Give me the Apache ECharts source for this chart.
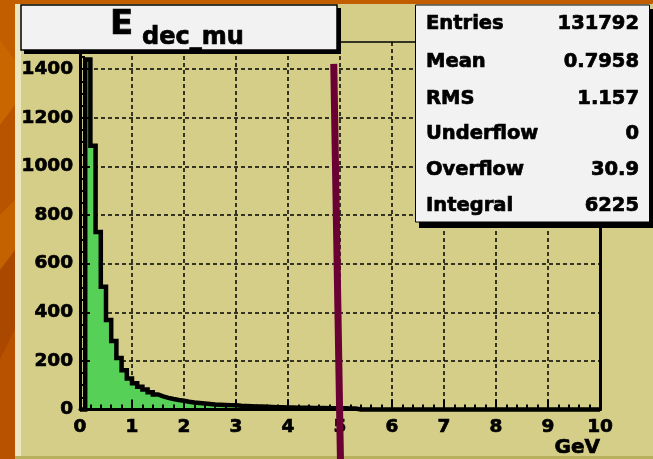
<!DOCTYPE html>
<html>
<head>
<meta charset="utf-8">
<script src="https://cdn.jsdelivr.net/npm/echarts@6/dist/echarts.min.js"></script>
<style>
  html, body { margin: 0; padding: 0; background: #c25e00; }
  #chart { width: 653px; height: 459px; }
</style>
</head>
<body>
<div id="chart"></div>
<script>
// Histogram binning: 100 bins of 0.1 GeV from 0 to 10 GeV
const binLow = 0;
const binWidth = 0.1;
const binCounts = [
  0, 1440, 1085, 730, 505, 368, 282, 212, 162, 128,
  108, 94, 82, 71, 62, 54, 48, 43, 39, 36,
  32, 29, 27, 25, 23, 21, 20, 19, 18, 17,
  15, 14, 13, 12, 12, 11, 10, 9, 9, 8,
  8, 7, 7, 7, 6, 6, 6, 5, 5, 5,
  5, 4, 4, 0, 0, 0, 0, 0, 0, 0,
  0, 0, 0, 0, 0, 0, 0, 0, 0, 0,
  0, 0, 0, 0, 0, 0, 0, 0, 0, 0,
  0, 0, 0, 0, 0, 0, 0, 0, 0, 0,
  0, 0, 0, 0, 0, 0, 0, 0, 0, 0
];

// Cut marker drawn across the plot (GeV, entries)
const cutX = [4.88, 5.013];
const cutY = [1422, -262];

// Axis ranges
const xRange = [0, 10];
const yRange = [0, 1512];
const xStep = 1;
const yStep = 200;

// Texts
const titleMain = 'E';
const titleSub = 'dec_mu';
const xUnit = 'GeV';
const statsLabels = ['Entries', 'Mean', 'RMS', 'Underflow', 'Overflow', 'Integral'];
const statsValues = ['131792', '0.7958', '1.157', '0', '30.9', '6225'];

const FONT = '"DejaVu Sans", "Liberation Sans", sans-serif';

// Step outline: one point per bin low edge, closed at the upper edge
const histPoints = binCounts.map((v, i) => [binLow + i * binWidth, v]);
histPoints.push([binLow + binCounts.length * binWidth, binCounts[binCounts.length - 1]]);

const cutPoints = cutX.map((x, i) => [x, cutY[i]]);

const khaki = '#d4ce89';
const grid = { left: 80, top: 42, width: 520, height: 367.5 };

// heavy text helper for the boxes
function boxText(text, x, y, size, align) {
  return {
    type: 'text', z: 101, x: x, y: y,
    style: {
      text: text, font: 'bold ' + size + 'px ' + FONT, fill: '#000',
      stroke: '#000', lineWidth: 0.7, align: align, verticalAlign: 'middle'
    }
  };
}

// Stats box rows
const statsRowY = [24, 61.5, 98.5, 133.5, 170, 205.5];
const statsText = [];
statsLabels.forEach((lab, i) => {
  statsText.push(boxText(lab, 426, statsRowY[i], 19.5, 'left'));
  statsText.push(boxText(statsValues[i], 639, statsRowY[i], 19.5, 'right'));
});

const graphics = [
  // canvas frame
  { type: 'rect', z: -10, shape: { x: 15, y: 4, width: 638, height: 455 }, style: { fill: khaki } },
  { type: 'rect', z: -9, shape: { x: 15, y: 4, width: 6, height: 452 }, style: { fill: '#ebe6bf' } },
  { type: 'rect', z: -9, shape: { x: 15, y: 456, width: 638, height: 3 }, style: { fill: '#b8b05c' } },
  // decorative backdrop along the left edge
  { type: 'polygon', z: -9, shape: { points: [[0, 40], [15, 60], [15, 105], [0, 125]] }, style: { fill: '#c96600' } },
  { type: 'polygon', z: -9, shape: { points: [[0, 125], [15, 105], [15, 200], [0, 215]] }, style: { fill: '#b85400' } },
  { type: 'polygon', z: -9, shape: { points: [[0, 215], [15, 200], [15, 250], [0, 270]] }, style: { fill: '#c46200' } },
  { type: 'polygon', z: -9, shape: { points: [[0, 270], [15, 250], [15, 330], [0, 360]] }, style: { fill: '#ab4800' } },
  { type: 'polygon', z: -9, shape: { points: [[0, 360], [15, 330], [15, 459], [0, 459]] }, style: { fill: '#b85200' } },

  // title box
  { type: 'rect', z: 100, shape: { x: 24, y: 8, width: 317, height: 46 }, style: { fill: '#000' } },
  { type: 'rect', z: 100, shape: { x: 21, y: 5, width: 316, height: 45 }, style: { fill: '#f2f2f2', stroke: '#000', lineWidth: 1.5 } },
  boxText(titleMain, 110, 25.5, 34, 'left'),
  boxText(titleSub, 142, 37.5, 24, 'left'),

  // statistics box
  { type: 'rect', z: 100, shape: { x: 419, y: 9, width: 240, height: 219 }, style: { fill: '#000' } },
  { type: 'rect', z: 100, shape: { x: 415.5, y: 5, width: 234, height: 217 }, style: { fill: '#f2f2f2', stroke: '#000', lineWidth: 1 } },
  ...statsText,

  // x-axis unit
  boxText(xUnit, 600, 448, 20, 'right')
];

const tickFont = {
  fontFamily: FONT, fontWeight: 'bold', fontSize: 18.5, color: '#000',
  textBorderColor: '#000', textBorderWidth: 0.7
};
const dashed = { color: '#000', type: [4, 3], width: 1.5 };

const option = {
  backgroundColor: '#c25e00',
  animation: false,
  grid: Object.assign({ containLabel: false }, grid),
  xAxis: [
    { // grid lines, below the histogram
      type: 'value', min: xRange[0], max: xRange[1], interval: xStep, position: 'bottom', z: 0,
      axisLine: { show: false }, axisTick: { show: false }, axisLabel: { show: false },
      splitLine: { show: true, showMinLine: false, showMaxLine: false, lineStyle: dashed }
    },
    { // axis line, ticks and labels, above the histogram
      type: 'value', min: xRange[0], max: xRange[1], interval: xStep, position: 'bottom', z: 5,
      axisLine: { show: true, onZero: false, lineStyle: { color: '#000', width: 3 } },
      axisTick: { show: true, inside: true, length: 10, lineStyle: { color: '#000', width: 2 } },
      minorTick: { show: true, splitNumber: 5, length: 5, lineStyle: { color: '#000', width: 2 } },
      axisLabel: Object.assign({ margin: 8, formatter: v => String(v) }, tickFont),
      splitLine: { show: false }
    },
    { // frame top
      type: 'value', min: xRange[0], max: xRange[1], interval: xStep, position: 'top', z: 5,
      axisLine: { show: true, onZero: false, lineStyle: { color: '#000', width: 1.5 } },
      axisTick: { show: false }, axisLabel: { show: false }, splitLine: { show: false }
    }
  ],
  yAxis: [
    {
      type: 'value', min: yRange[0], max: yRange[1], interval: yStep, position: 'left', z: 0,
      axisLine: { show: false }, axisTick: { show: false }, axisLabel: { show: false },
      splitLine: { show: true, showMinLine: false, showMaxLine: false, lineStyle: dashed }
    },
    {
      type: 'value', min: yRange[0], max: yRange[1], interval: yStep, position: 'left', z: 5,
      axisLine: { show: true, onZero: false, lineStyle: { color: '#000', width: 3 } },
      axisTick: { show: true, inside: true, length: 10, lineStyle: { color: '#000', width: 2 } },
      minorTick: { show: true, splitNumber: 4, length: 5, lineStyle: { color: '#000', width: 2 } },
      axisLabel: Object.assign({ margin: 7, showMaxLabel: false, formatter: v => String(v) }, tickFont),
      splitLine: { show: false }
    },
    { // frame right
      type: 'value', min: yRange[0], max: yRange[1], interval: yStep, position: 'right', z: 5,
      axisLine: { show: true, onZero: false, lineStyle: { color: '#000', width: 3 } },
      axisTick: { show: false }, axisLabel: { show: false }, splitLine: { show: false }
    }
  ],
  graphic: { elements: graphics },
  series: [
    {
      name: 'E_dec_mu', type: 'line', xAxisIndex: 0, yAxisIndex: 0,
      data: histPoints, step: 'end', symbol: 'none', clip: false, z: 2,
      lineStyle: { color: '#000', width: 4.5, join: 'miter' },
      areaStyle: { color: '#57d057', opacity: 1 }
    },
    {
      name: 'cut', type: 'line', xAxisIndex: 0, yAxisIndex: 0,
      data: cutPoints, symbol: 'none', clip: false, z: 10,
      lineStyle: { color: '#6a0034', width: 7, cap: 'butt' }
    }
  ]
};

const chart = echarts.init(document.getElementById('chart'), null, { renderer: 'canvas' });
chart.setOption(option);
</script>
</body>
</html>
